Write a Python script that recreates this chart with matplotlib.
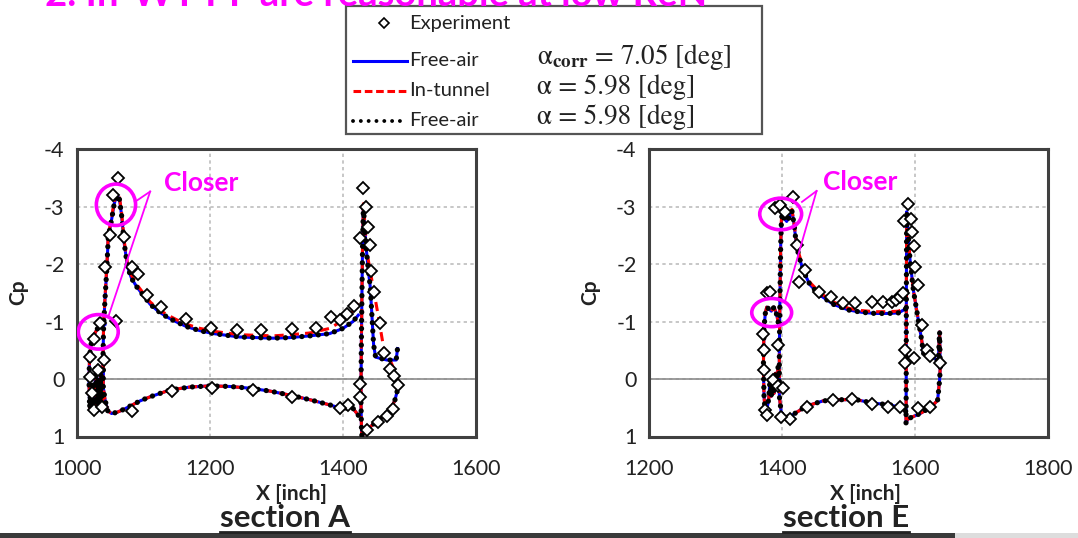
import matplotlib
matplotlib.use("Agg")
import matplotlib.pyplot as plt
from matplotlib.patches import Ellipse, Rectangle
from matplotlib.lines import Line2D

plt.rcParams['font.family'] = ['Lato', 'DejaVu Sans']
plt.rcParams['mathtext.fontset'] = 'stix'

# ---------------- section A ----------------
a_slat_x = [1040, 1038, 1036, 1034, 1032, 1030, 1028, 1026, 1024, 1022, 1020, 1019, 1018, 1019, 1021, 1024, 1028, 1032, 1036, 1040, 1042]
a_slat_cp = [-0.3, 0.5, -0.1, 0.55, 0.0, 0.45, -0.2, 0.6, 0.1, 0.55, 0.3, 0.5, 0.0, -0.4, -0.6, -0.72, -0.82, -0.9, -0.96, -1.0, -0.95]

a_main_x = [1423, 1413, 1400, 1380, 1350, 1320, 1290, 1260, 1230, 1200, 1170, 1140, 1110, 1095, 1080, 1070, 1060, 1052, 1046, 1042, 1039,
            1039, 1040, 1042, 1045, 1047, 1052, 1056, 1060, 1064, 1067, 1071, 1076, 1082, 1090, 1100, 1110, 1122, 1135, 1150, 1165,
            1185, 1205, 1225, 1245, 1270, 1295, 1320, 1350, 1380, 1400, 1415, 1423]
a_main_cp = [0.63, 0.48, 0.52, 0.45, 0.36, 0.28, 0.21, 0.16, 0.13, 0.12, 0.14, 0.19, 0.31, 0.38, 0.47, 0.53, 0.58, 0.6, 0.55, 0.35, 0.1,
             -0.3, -0.91, -1.37, -1.95, -2.47, -2.77, -3.05, -3.2, -3.12, -2.85, -2.36, -1.95, -1.75, -1.6, -1.45, -1.3, -1.18, -1.08, -0.99, -0.91,
             -0.84, -0.79, -0.76, -0.73, -0.72, -0.71, -0.72, -0.75, -0.79, -0.88, -1.0, -1.11]
a_main_cp_tunnel = [0.63, 0.48, 0.52, 0.45, 0.36, 0.28, 0.21, 0.16, 0.13, 0.12, 0.14, 0.19, 0.31, 0.38, 0.47, 0.53, 0.58, 0.6, 0.55, 0.35, 0.1,
                    -0.3, -0.95, -1.4, -2.0, -2.5, -2.8, -3.1, -3.25, -3.15, -2.9, -2.4, -2.0, -1.8, -1.64, -1.49, -1.34, -1.22, -1.12, -1.03, -0.95,
                    -0.88, -0.83, -0.8, -0.77, -0.76, -0.75, -0.77, -0.8, -0.88, -1.02, -1.18, -1.32]

a_flap_x = [1483, 1482, 1478, 1471, 1456, 1441, 1432, 1428, 1427, 1427.5, 1428.5, 1429.5, 1430.7, 1432, 1434.7, 1438, 1441, 1443, 1446, 1449, 1466, 1480, 1482]
a_flap_cp = [0.08, 0.19, 0.37, 0.54, 0.69, 0.83, 0.95, 0.98, 0.4, -0.5, -1.5, -2.4, -3.0, -2.75, -2.3, -1.9, -1.6, -1.2, -0.6, -0.38, -0.33, -0.33, -0.53]
a_flap_x_tunnel = [1483, 1482, 1478, 1471, 1456, 1441, 1432, 1428, 1427, 1427.5, 1428.5, 1429.5, 1430.7, 1436, 1446, 1453, 1461, 1473, 1481, 1483]
a_flap_cp_tunnel = [0.08, 0.19, 0.37, 0.54, 0.69, 0.83, 0.95, 0.98, 0.4, -0.5, -1.5, -2.4, -3.05, -2.2, -1.55, -1.1, -0.55, -0.27, -0.04, 0.05]

a_exp_x = [1020, 1025, 1035, 1042, 1049, 1054, 1061, 1059, 1070, 1082, 1091, 1105, 1127, 1164, 1202, 1240, 1277, 1324, 1359, 1382,
           1395, 1406, 1417, 1430, 1435, 1426, 1438, 1441, 1442, 1447, 1455, 1461, 1471, 1476, 1482, 1475, 1466, 1453, 1436, 1426,
           1425, 1408, 1396, 1324, 1264, 1203, 1143, 1083, 1020, 1022, 1025, 1037, 1040, 1032]
a_exp_cp = [-0.39, -0.69, -0.98, -1.95, -2.5, -3.2, -3.49, -1.01, -2.47, -1.95, -1.83, -1.46, -1.25, -1.04, -0.88, -0.85, -0.85, -0.87, -0.88, -1.07,
            -1.03, -1.13, -1.27, -3.32, -3.0, -2.45, -2.65, -2.33, -1.87, -1.52, -0.98, -0.45, -0.18, -0.06, 0.1, 0.53, 0.64, 0.75, 0.89, 0.08,
            0.31, 0.45, 0.51, 0.32, 0.19, 0.15, 0.21, 0.55, -0.04, 0.25, 0.54, 0.48, -0.33, -0.15]

# ---------------- section E ----------------
e_slat_x = [1394, 1392, 1390, 1388, 1386, 1384, 1382, 1380, 1377, 1375, 1373, 1372, 1372.5, 1373, 1375, 1377, 1380, 1384, 1388, 1392, 1395]
e_slat_cp = [-0.2, 0.15, -0.1, 0.25, -0.05, 0.3, 0.0, 0.35, 0.55, 0.62, 0.3, -0.2, -0.6, -0.9, -1.15, -1.25, -1.22, -1.18, -1.25, -1.12, -0.95]

e_main_x = [1586, 1578, 1563, 1537, 1512, 1487, 1462, 1437, 1415, 1405, 1399, 1396,
            1396, 1397, 1398, 1399, 1400, 1403, 1407, 1411, 1415, 1418, 1421, 1425, 1432, 1442, 1457, 1477, 1500, 1520, 1540, 1560, 1575, 1583, 1586]
e_main_cp = [0.56, 0.5, 0.45, 0.42, 0.36, 0.36, 0.38, 0.47, 0.63, 0.68, 0.6, 0.3,
             -0.5, -1.5, -2.3, -2.7, -2.88, -2.8, -2.74, -2.82, -2.92, -2.7, -2.4, -2.15, -1.88, -1.64, -1.46, -1.3, -1.2, -1.16, -1.14, -1.14, -1.15, -1.2, -1.22]
e_main_cp_tunnel = [0.56, 0.5, 0.45, 0.42, 0.36, 0.36, 0.38, 0.47, 0.63, 0.68, 0.6, 0.3,
                    -0.5, -1.5, -2.3, -2.75, -2.92, -2.85, -2.8, -2.88, -2.95, -2.72, -2.45, -2.2, -1.92, -1.68, -1.5, -1.34, -1.23, -1.19, -1.17, -1.17, -1.18, -1.22, -1.24]

e_flap_x = [1638, 1637, 1634, 1625, 1608, 1590, 1587, 1586.5, 1586.8, 1587, 1587.5, 1590, 1592.5, 1597.5, 1605, 1610, 1612.6, 1620, 1630, 1635, 1637, 1638]
e_flap_cp = [-0.21, 0.02, 0.37, 0.48, 0.6, 0.69, 0.75, 0.77, 0.0, -1.5, -2.91, -2.5, -2.07, -1.55, -1.02, -0.68, -0.45, -0.36, -0.36, -0.3, -0.82, -0.21]

e_exp_x = [1389, 1397, 1416, 1405, 1423, 1434, 1425, 1455, 1473, 1492, 1510, 1535, 1552, 1565, 1572, 1577, 1582, 1589, 1584, 1594,
           1596, 1598, 1600, 1604, 1610, 1618, 1622, 1638, 1598, 1585, 1585, 1605, 1623, 1412, 1398, 1437, 1476, 1505, 1535, 1560,
           1577, 1377, 1382, 1372, 1373, 1373, 1374, 1377, 1387, 1394, 1394, 1401]
e_exp_cp = [-2.97, -3.03, -3.16, -2.91, -2.33, -1.89, -1.69, -1.52, -1.43, -1.33, -1.33, -1.34, -1.34, -1.34, -1.37, -1.43, -1.49, -3.04, -2.75, -2.79,
            -2.56, -2.31, -1.95, -1.63, -0.94, -0.5, -0.4, -0.27, -0.36, -0.27, -0.5, 0.51, 0.48, 0.69, 0.66, 0.48, 0.36, 0.34, 0.43, 0.49,
            0.48, -1.49, -1.52, -0.79, -0.5, -0.15, 0.54, 0.63, 0.02, 0.13, -0.59, 0.16]

MAGENTA = '#ff00ff'
W, H = 1078, 538


def draw_section(ax, slat, main, main_tunnel, flap, flap_tunnel, exp, xticks):
    for (x, y) in [slat, main, flap]:
        ax.plot(x, y, color='#0000ff', lw=2.2, solid_joinstyle='round', zorder=3)
    for (x, y) in [slat, main_tunnel, flap_tunnel]:
        ax.plot(x, y, color='#ff0000', lw=2.2, ls=(0, (3, 2)), zorder=4)
    for (x, y) in [slat, main, flap]:
        ax.plot(x, y, color='black', lw=3.8, ls=(0, (0.01, 1.55)), dash_capstyle='round', zorder=5)
    ax.plot(exp[0], exp[1], ls='none', marker='D', ms=6.5, mfc='white', mec='black', mew=1.3, zorder=6)

    ax.set_xlim(xticks[0], xticks[-1])
    ax.set_ylim(1, -4)
    ax.set_xticks(xticks)
    ax.set_yticks([-4, -3, -2, -1, 0, 1])
    ax.set_yticklabels(['-4', '-3', '-2', '-1', '0', '1'])
    ax.tick_params(length=0, labelsize=15.5, colors='#222222')
    ax.tick_params(axis='x', pad=16)
    ax.tick_params(axis='y', pad=9)
    ax.grid(True, color='#bdbdbd', lw=1.2, ls=(0, (2, 2)))
    ax.axhline(0, color='#8c8c8c', lw=1.2, zorder=2)
    for s in ax.spines.values():
        s.set_color('#404040')
        s.set_linewidth(2.2)


fig = plt.figure(figsize=(W / 100, H / 100), dpi=100)

axA = fig.add_axes([77 / W, 1 - 436.5 / H, 399 / W, 287.5 / H])
axE = fig.add_axes([649 / W, 1 - 436.5 / H, 399 / W, 287.5 / H])

draw_section(axA, (a_slat_x, a_slat_cp), (a_main_x, a_main_cp), (a_main_x, a_main_cp_tunnel),
             (a_flap_x, a_flap_cp), (a_flap_x_tunnel, a_flap_cp_tunnel), (a_exp_x, a_exp_cp),
             [1000, 1200, 1400, 1600])
draw_section(axE, (e_slat_x, e_slat_cp), (e_main_x, e_main_cp), (e_main_x, e_main_cp_tunnel),
             (e_flap_x, e_flap_cp), (e_flap_x, e_flap_cp), (e_exp_x, e_exp_cp),
             [1200, 1400, 1600, 1800])

# "Closer" annotations
for ax, cx, cy, ells, ends in [
        (axA, 1186, -3.41, [(1058.6, -3.03, 59, 0.72), (1032, -0.82, 60, 0.6)],
         [(1110, -3.26, 1087, -3.08), (1110, -3.26, 1047, -1.08)]),
        (axE, 1518, -3.42, [(1398, -2.87, 63, 0.55), (1384.5, -1.155, 60, 0.49)],
         [(1452, -3.27, 1430, -3.08), (1452, -3.27, 1404, -1.33)])]:
    ax.text(cx, cy, 'Closer', color=MAGENTA, fontsize=19, fontweight='bold', ha='center', va='center', zorder=10)
    for (ex, ey, ew, eh) in ells:
        ax.add_patch(Ellipse((ex, ey), ew, eh, fill=False, ec=MAGENTA, lw=2.6, zorder=9))
    for (x0, y0, x1, y1) in ends:
        ax.plot([x0, x1], [y0, y1], color=MAGENTA, lw=1.3, zorder=9)

# overlay in pixel coordinates for the legend and labels
ov = fig.add_axes([0, 0, 1, 1], facecolor='none')
ov.set_xlim(0, W)
ov.set_ylim(H, 0)
ov.axis('off')

ov.text(45, 6, '2. In-WT PF are reasonable at low ReN', color=MAGENTA, fontsize=27.5,
        fontweight='bold', va='baseline', ha='left')

ov.add_patch(Rectangle((346, 6), 416, 128, fill=True, fc='white', ec='#555555', lw=1.6))
ov.plot([384], [23], ls='none', marker='D', ms=5.5, mfc='white', mec='black', mew=1.2)
ov.add_line(Line2D([353, 407], [61, 61], color='#0000ff', lw=2.2))
ov.add_line(Line2D([353, 407], [91, 91], color='#ff0000', lw=2.2, ls=(0, (2.5, 1.2))))
ov.add_line(Line2D([353, 407], [121, 121], color='black', lw=2.8, ls=(0, (0.01, 2.0)), dash_capstyle='round'))
ov.text(409, 23, 'Experiment', fontsize=14.5, va='center', ha='left', color='#222222')
ov.text(409, 61, 'Free-air', fontsize=14.5, va='center', ha='left', color='#222222')
ov.text(409, 91, 'In-tunnel', fontsize=14.5, va='center', ha='left', color='#222222')
ov.text(409, 121, 'Free-air', fontsize=14.5, va='center', ha='left', color='#222222')
ov.text(537, 57, r'α$_{\mathbf{corr}}$ = 7.05 [deg]', fontsize=19.5, va='center', ha='left',
        family='STIXGeneral', color='#222222')
ov.text(537, 87, 'α = 5.98 [deg]', fontsize=19.5, va='center', ha='left',
        family='STIXGeneral', color='#222222')
ov.text(537, 117, 'α = 5.98 [deg]', fontsize=19.5, va='center', ha='left',
        family='STIXGeneral', color='#222222')

# axis labels
for xl, xs in [(292, 18), (865, 590)]:
    ov.text(xl, 494, 'X [inch]', fontsize=15, fontweight='bold', ha='center', va='center', color='#222222')
    ov.text(xs, 292, 'Cp', fontsize=15, fontweight='bold', ha='center', va='center', rotation=90, color='#222222')

secs = []
for xs, title in [(285, 'section A'), (846, 'section E')]:
    secs.append(ov.text(xs, 518, title, fontsize=22.5, fontweight='bold', ha='center', va='center', color='#222222'))

fig.canvas.draw()
inv = ov.transData.inverted()
for t in secs:
    bb = t.get_window_extent()
    (x0, y0), (x1, y1) = inv.transform([(bb.x0, bb.y0), (bb.x1, bb.y1)])
    ov.add_line(Line2D([x0, x1], [531.5, 531.5], color='#222222', lw=2))

# slide bottom border
ov.add_patch(Rectangle((0, 533), 955, 6, fc='#3a3a3a', ec='none'))
ov.add_patch(Rectangle((955, 533), W - 955, 6, fc='#dddddd', ec='none'))

fig.savefig('out.png', dpi=100)
